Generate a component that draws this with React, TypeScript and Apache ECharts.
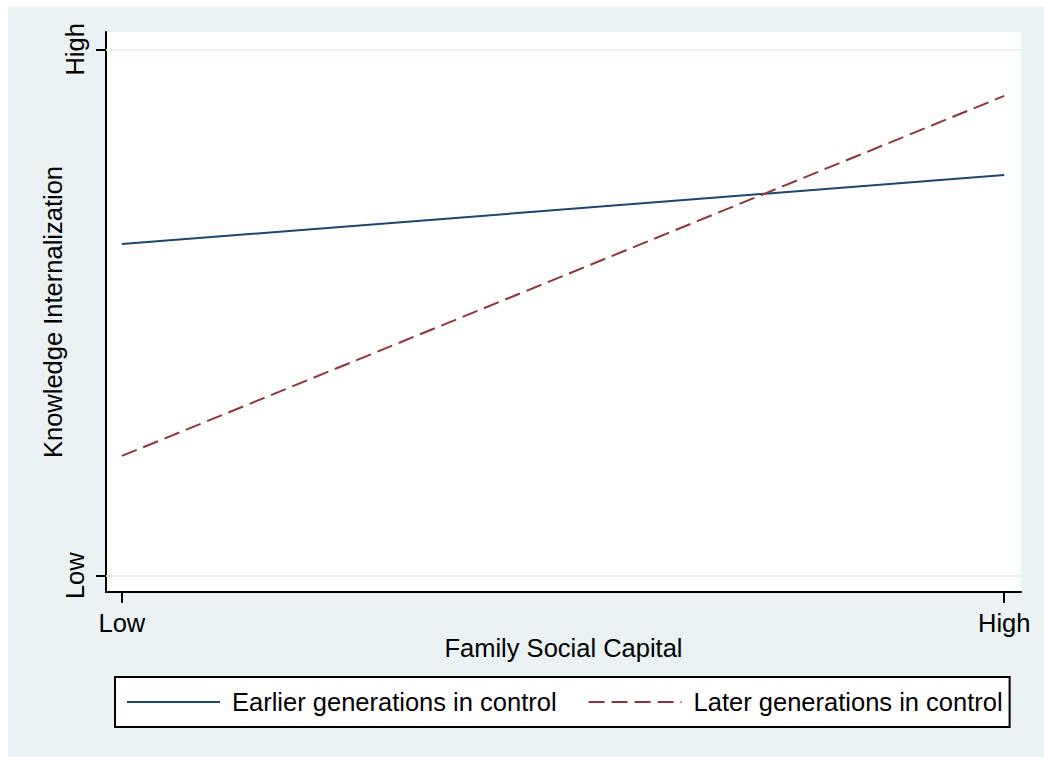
import React, { useEffect, useRef } from "react";
import * as echarts from "echarts";

const xTickValues = [0, 1];
const xTickLabels = ["Low", "High"];
const yTickValues = [0, 1];
const yTickLabels = ["Low", "High"];
const xPoints = [0, 1];
const seriesNames = ["Earlier generations in control", "Later generations in control"];
const earlierValues = [0.63, 0.7615];
const laterValues = [0.2275, 0.9116];
const gridValues = [0, 1];

const FONT = "'Liberation Sans', Arial, sans-serif";
const FS = 25.5;

export default function App() {
  const ref = useRef<HTMLDivElement>(null);
  useEffect(() => {
    if (!ref.current) return;
    const chart = echarts.init(ref.current, undefined, { renderer: "svg" });
    const labelFor = (vals: number[], labels: string[]) => (v: number) => {
      const i = vals.findIndex((t) => Math.abs(t - v) < 1e-6);
      return i >= 0 ? labels[i] : "";
    };
    chart.setOption({
      animation: false,
      backgroundColor: "#EAF2F3",
      textStyle: { fontFamily: FONT },
      grid: {
        left: 98,
        right: 23,
        top: 26,
        bottom: 165,
        show: true,
        backgroundColor: "#ffffff",
        borderWidth: 0,
      },
      legend: {
        left: 107,
        top: 671,
        orient: "horizontal",
        backgroundColor: "#ffffff",
        borderColor: "#000000",
        borderWidth: 2,
        borderRadius: 0,
        padding: [12, 7, 12, 11],
        itemWidth: 93,
        itemHeight: 14,
        itemGap: 31,
        itemStyle: { opacity: 0 },
        textStyle: { fontSize: FS, color: "#000", fontFamily: FONT, padding: [0, 0, 0, 7] },
        data: seriesNames,
      },
      xAxis: {
        type: "value",
        min: -0.018,
        max: 1.019,
        name: "Family Social Capital",
        nameLocation: "middle",
        nameGap: 43,
        nameMoveOverlap: false,
        nameTextStyle: { fontSize: FS, color: "#000", fontFamily: FONT },
        axisLine: { show: true, onZero: false, lineStyle: { color: "#000", width: 2 } },
        axisTick: { show: true, length: 11, lineStyle: { color: "#000", width: 2 }, customValues: xTickValues },
        axisLabel: {
          customValues: xTickValues,
          formatter: labelFor(xTickValues, xTickLabels),
          fontSize: FS,
          color: "#000",
          margin: 18,
          fontFamily: FONT,
        },
        splitLine: { show: false },
      },
      yAxis: {
        type: "value",
        min: -0.031,
        max: 1.033,
        name: "Knowledge Internalization",
        nameLocation: "middle",
        nameGap: 40,
        nameMoveOverlap: false,
        nameTextStyle: { fontSize: FS, color: "#000", fontFamily: FONT },
        axisLine: { show: true, onZero: false, lineStyle: { color: "#000", width: 2 } },
        axisTick: { show: true, length: 10, lineStyle: { color: "#000", width: 2 }, customValues: yTickValues },
        axisLabel: {
          customValues: yTickValues,
          formatter: labelFor(yTickValues, yTickLabels),
          fontSize: FS,
          color: "#000",
          rotate: 90,
          margin: 18,
          fontFamily: FONT,
        },
        splitLine: { show: false },
      },
      series: [
        {
          name: seriesNames[0],
          type: "line",
          symbol: "none",
          color: "#1A476F",
          lineStyle: { color: "#1A476F", width: 2, type: "solid" },
          data: xPoints.map((x, i) => [x, earlierValues[i]]),
          markLine: {
            silent: true,
            symbol: "none",
            label: { show: false },
            lineStyle: { color: "#EAF2F3", width: 2, type: "solid" },
            data: gridValues.map((v) => ({ yAxis: v })),
          },
          z: 3,
        },
        {
          name: seriesNames[1],
          type: "line",
          symbol: "none",
          color: "#90353B",
          lineStyle: { color: "#90353B", width: 2, type: [16, 7] },
          data: xPoints.map((x, i) => [x, laterValues[i]]),
          z: 4,
        },
      ],
    });
    return () => chart.dispose();
  }, []);
  return (
    <div
      ref={ref}
      style={{ position: "absolute", left: 8, top: 6, width: 1036, height: 751 }}
    />
  );
}
